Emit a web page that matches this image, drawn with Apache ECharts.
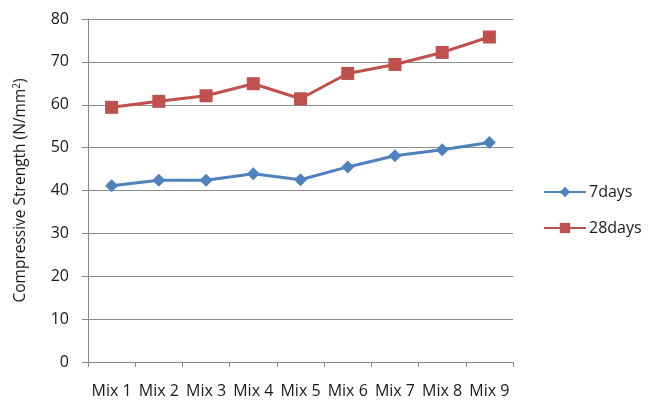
<!DOCTYPE html>
<html>
<head>
<meta charset="utf-8">
<script src="https://cdn.jsdelivr.net/npm/echarts@6/dist/echarts.min.js"></script>
<style>
html, body { margin: 0; padding: 0; background: #fff; }
#main { width: 661px; height: 400px; }
</style>
</head>
<body>
<div id="main"></div>
<script>
var categories = ['Mix 1', 'Mix 2', 'Mix 3', 'Mix 4', 'Mix 5', 'Mix 6', 'Mix 7', 'Mix 8', 'Mix 9'];
var days7 = [41.1, 42.4, 42.4, 43.9, 42.5, 45.5, 48.1, 49.5, 51.2];
var days28 = [59.4, 60.8, 62.1, 64.9, 61.4, 67.3, 69.4, 72.2, 75.8];

var myChart = echarts.init(document.getElementById('main'));
var font = 'Open Sans';

var option = {
    animation: false,
    textStyle: { fontFamily: font },
    grid: { left: 88, right: 148, top: 19, bottom: 38 },
    legend: {
        orient: 'vertical',
        left: 543,
        top: 184,
        padding: 0,
        itemGap: 20,
        itemWidth: 42,
        itemHeight: 13,
        textStyle: { fontFamily: font, fontSize: 16, color: '#1a1a1a', padding: [0, 0, 0, -2] },
        data: ['7days', '28days']
    },
    xAxis: {
        type: 'category',
        data: categories,
        boundaryGap: true,
        axisLine: { lineStyle: { color: '#888', width: 1 } },
        axisTick: { show: true, length: 5, lineStyle: { color: '#888' } },
        axisLabel: { fontFamily: font, fontSize: 16, color: '#1a1a1a', margin: 21, interval: 0 }
    },
    yAxis: {
        type: 'value',
        min: 0,
        max: 80,
        interval: 10,
        name: 'Compressive Strength (N/mm{sup|2})',
        nameLocation: 'middle',
        nameRotate: 90,
        nameGap: 58,
        nameTextStyle: {
            fontFamily: font, fontSize: 15.5, color: '#1a1a1a',
            rich: { sup: { fontSize: 10, verticalAlign: 'top', padding: [0, 0, 8, 0], fontFamily: font, color: '#1a1a1a' } }
        },
        axisLine: { show: true, lineStyle: { color: '#888', width: 1 } },
        axisTick: { show: true, length: 6, lineStyle: { color: '#888' } },
        axisLabel: { fontFamily: font, fontSize: 16, color: '#1a1a1a', margin: 19 },
        splitLine: { lineStyle: { color: '#8c8c8c', width: 1 } }
    },
    series: [
        {
            name: '7days',
            type: 'line',
            data: days7,
            symbol: 'diamond',
            symbolSize: 13,
            lineStyle: { color: '#4F81BD', width: 3 },
            itemStyle: { color: '#4F81BD' }
        },
        {
            name: '28days',
            type: 'line',
            data: days28,
            symbol: 'rect',
            symbolSize: 13,
            lineStyle: { color: '#C0504D', width: 3 },
            itemStyle: { color: '#C0504D' }
        }
    ]
};
myChart.setOption(option);
</script>
</body>
</html>
